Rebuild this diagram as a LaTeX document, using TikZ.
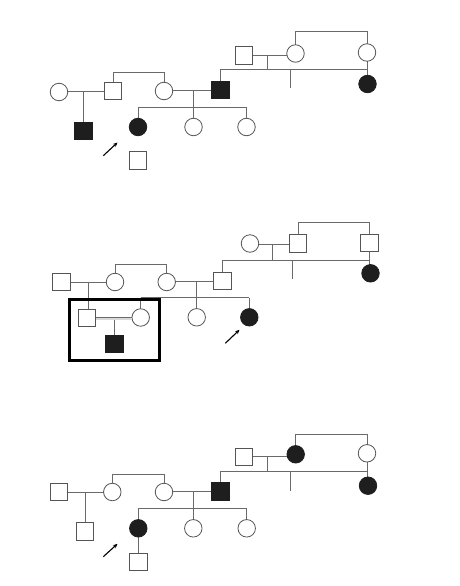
\documentclass[tikz,border=0pt]{standalone}
\usetikzlibrary{arrows.meta}
\definecolor{lc}{HTML}{6A6A6A}
\definecolor{oc}{HTML}{555555}
\definecolor{af}{HTML}{1E1E1E}
\begin{document}
\begin{tikzpicture}[x=1pt,y=-1pt,
  male/.style={draw=oc,line width=0.8pt,fill=white,minimum size=17.5pt,inner sep=0pt,outer sep=0pt},
  female/.style={draw=oc,line width=0.8pt,fill=white,circle,minimum size=17.5pt,inner sep=0pt,outer sep=0pt},
  aff/.style={fill=af,draw=af},
  ln/.style={draw=lc,line width=0.85pt},
  prob/.style={draw=black,line width=1.1pt,-{Stealth[length=4.5pt,width=4pt]}},
  consang/.style={draw=lc,double=white!85!black,double distance=1.8pt,line width=0.8pt}]
\useasboundingbox (0,0) rectangle (460,586);
\fill[white] (0,0) rectangle (460,586);

% ---------------- Pedigree 1 ----------------
\draw[ln] (59,91.5) -- (113,91.5);
\draw[ln] (164,90.5) -- (220.5,90.5);
\draw[ln] (244,55.5) -- (295.5,55.5);
\draw[ln] (83.5,91.5) -- (83.5,131);
\draw[ln] (113,91) -- (113,72.7) -- (164,72.7) -- (164,91);
\draw[ln] (193.3,90.5) -- (193.3,107.3);
\draw[ln] (138,107.3) -- (246.5,107.3);
\draw[ln] (138,107.3) -- (138,127);
\draw[ln] (193.5,107.3) -- (193.5,127);
\draw[ln] (246.5,107.3) -- (246.5,127);
\draw[ln] (267.3,55.5) -- (267.3,69);
\draw[ln] (220.5,90) -- (220.5,69) -- (367,69);
\draw[ln] (290,69) -- (290,88.3);
\draw[ln] (295.5,53.5) -- (295.5,31.7) -- (367,31.7) -- (367,84);

\node[female] (p1a) at (59,92) {};
\node[male] (p1b) at (113,91) {};
\node[female] (p1c) at (164,91) {};
\node[male,aff] (p1d) at (220.5,90) {};
\node[male,aff] (p1e) at (83.5,131) {};
\node[female,aff] (p1f) at (138,127) {};
\node[female] (p1g) at (193.5,127) {};
\node[female] (p1h) at (246.5,127) {};
\node[male] (p1i) at (138,160.5) {};
\node[male] (p1j) at (244,55.5) {};
\node[female] (p1k) at (295.5,53.5) {};
\node[female] (p1l) at (367,52.5) {};
\node[female,aff] (p1m) at (367.5,84) {};
\coordinate (a1s) at (103.3,155.7);
\coordinate (a1e) at (117.5,142.5);
\draw[prob] (a1s) -- (a1e);

% ---------------- Pedigree 2 ----------------
\draw[ln] (61.5,282) -- (115,282);
\draw[ln] (166.7,281.5) -- (222.3,281.5);
\draw[ln] (250,244) -- (298,244);
\draw[ln] (88.3,282) -- (88.3,318);
\draw[ln] (115,282) -- (115,264) -- (166.7,264) -- (166.7,282);
\draw[ln] (196.7,281.5) -- (196.7,297.7);
\draw[ln] (140.7,297.7) -- (249.3,297.7);
\draw[ln] (140.7,297.7) -- (140.7,317.5);
\draw[ln] (196.7,297.7) -- (196.7,317.3);
\draw[ln] (249.3,297.7) -- (249.3,317.3);
\draw[ln] (272.3,244) -- (272.3,260);
\draw[ln] (222.3,281) -- (222.3,260) -- (369.5,260);
\draw[ln] (292.3,260) -- (292.3,279.3);
\draw[ln] (298,243.5) -- (298,222.7) -- (369.5,222.7) -- (369.5,273.3);
\draw[ln] (114,318.7) -- (114,344);

\node[male] (p2a) at (61.5,282) {};
\node[female] (p2b) at (115,282) {};
\node[female] (p2c) at (166.7,282) {};
\node[male] (p2d) at (222.3,281) {};
\node[male] (p2e) at (87,318) {};
\node[female] (p2f) at (140.7,317.5) {};
\node[male,aff] (p2g) at (114.5,344) {};
\node[female] (p2h) at (196.7,317.3) {};
\node[female,aff] (p2i) at (249.3,317.3) {};
\node[female] (p2j) at (250,243.5) {};
\node[male] (p2k) at (298,243.5) {};
\node[male] (p2l) at (369.5,243) {};
\node[female,aff] (p2m) at (370.5,273.3) {};
\draw[consang] (p2e.east |- 0,318.7) -- (p2f.west |- 0,318.7);
\draw[black,line width=3pt] (69,299) rectangle (159.5,360);
\coordinate (a2s) at (225.3,343.3);
\coordinate (a2e) at (239.5,329.8);
\draw[prob] (a2s) -- (a2e);

% ---------------- Pedigree 3 ----------------
\draw[ln] (58.8,492) -- (112.3,492);
\draw[ln] (164,491.5) -- (220.5,491.5);
\draw[ln] (244,456.5) -- (295.7,456.5);
\draw[ln] (85,492) -- (85,531.3);
\draw[ln] (112.3,492) -- (112.3,474.3) -- (164,474.3) -- (164,492);
\draw[ln] (193.3,491.5) -- (193.3,508.3);
\draw[ln] (138.3,508.3) -- (246.7,508.3);
\draw[ln] (138.3,508.3) -- (138.3,562);
\draw[ln] (193.3,508.3) -- (193.3,528.3);
\draw[ln] (246.7,508.3) -- (246.7,528.3);
\draw[ln] (267.3,456.5) -- (267.3,471);
\draw[ln] (220.5,491.5) -- (220.5,471) -- (367,471);
\draw[ln] (290,471) -- (290,490.7);
\draw[ln] (295.7,454.3) -- (295.7,434) -- (367,434) -- (367,485.7);

\node[male] (p3a) at (58.8,492) {};
\node[female] (p3b) at (112.3,492) {};
\node[female] (p3c) at (164,492) {};
\node[male,aff] (p3d) at (220.5,491.5) {};
\node[male] (p3e) at (85,531.3) {};
\node[female,aff] (p3f) at (138.3,528.3) {};
\node[female] (p3g) at (193.3,528.3) {};
\node[female] (p3h) at (246.7,528.3) {};
\node[male] (p3i) at (138.3,562) {};
\node[male] (p3j) at (244,457) {};
\node[female,aff] (p3k) at (295.7,454.3) {};
\node[female] (p3l) at (367,453.3) {};
\node[female,aff] (p3m) at (368,485.7) {};
\coordinate (a3s) at (103.3,556.7);
\coordinate (a3e) at (117.5,543.8);
\draw[prob] (a3s) -- (a3e);
\end{tikzpicture}
\end{document}
